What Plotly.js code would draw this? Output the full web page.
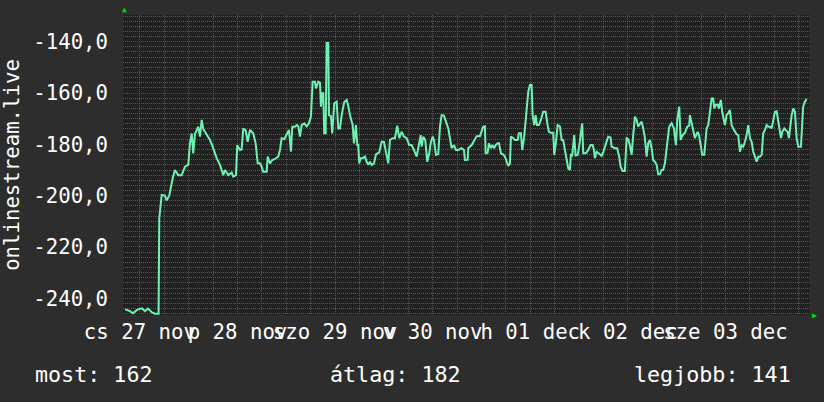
<!DOCTYPE html>
<html>
<head>
<meta charset="utf-8">
<script src="https://cdn.plot.ly/plotly-3.0.1.min.js"></script>
<style>html,body{margin:0;padding:0;background:#2d2d2d;}#chart{width:824px;height:402px;}</style>
</head>
<body>
<div id="chart"></div>
<script>
// hours since 27 Nov 00:00
var hours = [8.34,9.57,10.30,11.29,12.52,13.25,13.99,14.98,15.71,16.6,16.77,17.36,18.17,18.59,19.23,19.57,20.07,20.63,21.44,22.28,23.09,23.90,24.32,24.74,25.13,25.55,26.36,26.78,27.20,27.59,28.43,29.24,29.90,30.88,31.70,32.51,32.93,33.74,34.57,34.97,35.63,35.95,36.61,37.03,37.43,38.02,38.51,39.07,39.88,40.48,40.97,41.53,41.95,42.34,43.18,43.43,43.99,44.56,45.22,46.03,46.45,46.87,47.51,48.10,48.66,49.16,49.48,50.14,50.56,50.95,51.37,51.79,52.42,53.01,53.58,54.07,54.49,55.06,55.30,55.87,56.29,56.53,56.85,57.10,57.34,57.69,57.93,58.33,58.50,58.99,59.31,59.80,60.39,60.79,61.21,61.62,62.26,62.85,63.25,63.66,64.33,64.65,65.14,65.46,65.70,65.95,66.29,66.78,67.35,67.77,68.16,68.58,69.00,69.56,70.06,70.87,71.46,72.02,72.52,73.08,73.50,74.16,74.73,75.29,75.79,76.38,76.94,77.61,78.24,78.83,79.40,80.06,80.46,81.05,81.29,81.69,82.18,82.67,83.16,83.51,84.00,84.32,84.81,85.38,85.80,86.21,86.78,87.27,87.84,88.25,88.67,89.24,89.73,90.30,91.13,91.70,91.94,92.60,92.75,93.59,94.23,94.82,95.63,96.05,96.44,96.86,97.03,97.52,97.84,98.34,98.66,99.15,99.49,99.98,100.31,100.80,101.36,101.78,102.20,102.59,103.01,103.25,103.82,104.24,104.90,105.22,105.71,106.03,106.52,106.87,107.11,107.51,107.92,108.34,108.59,108.98,109.32,109.64,110.13,110.62,111.19,111.78,112.27,112.59,113.08,113.65,113.90,114.24,114.74,115.30,115.72,116.11,116.53,116.94,117.34,117.75,118.00,118.32,118.81,119.15,119.65,119.97,120.46,120.78,121.03,121.69,122.26,122.85,123.34,123.66,123.90,124.32,124.71,125.13,125.55,125.94,126.36,126.78,127.17,127.76,128.01,128.82,129.38,129.88,130.22,130.71,131.28,131.70,132.09,132.51,132.93,133.32,133.74,134.16,134.55,134.97,135.39,135.78,136.20,136.62,137.01,137.43,137.85,138.24,138.66,139.08,139.47,139.89,140.31,140.70,141.12,141.69,142.18,142.77,143.34,143.83,144.15,144.64,144.99,145.48,146.05,146.61,147.10,147.27,147.69,148.09,148.50,149.17,149.49,149.98,150.30,150.79,151.14,151.38,151.78,152.19,152.61,153.00,153.25,153.59,154.08,154.40,154.89,155.21,155.46,155.88,156.29,156.69,157.11,157.52,157.92,158.34,158.75,159.15,159.57,159.98,160.38,160.80,161.22,161.61,162.03,162.45,162.84,163.26,163.68,164.07,164.49,164.91,165.30,165.72,166.14,166.53,166.95,167.37,167.76,168.18,168.60,168.99,169.41,169.66,169.97,170.47,170.81,171.30,171.62,171.87,172.29,172.68,173.10,173.51,173.91,174.57,174.88,175.12,175.54,175.96];
var values = [-244.3,-245,-245.8,-244.5,-243.9,-245,-244,-245.5,-246,-246,-208.8,-199.7,-200,-201.8,-200,-196.5,-193.2,-190,-192,-192,-188.7,-188,-179.6,-175.7,-183.5,-176,-173.1,-177,-170.5,-174,-176.4,-178.3,-180.9,-185.4,-188,-192,-190,-192,-191,-192.6,-192,-180.3,-182.2,-182,-173.8,-174.5,-179,-174.4,-175.7,-179.6,-187.4,-187.4,-188.7,-190.7,-190.7,-184.8,-187.4,-186.1,-185.7,-184.8,-182.2,-177.6,-178,-176.4,-174.4,-182.9,-173.1,-173.1,-172.5,-173,-177,-172.5,-171.8,-173,-171.8,-169.2,-155.6,-155.6,-158.2,-155.6,-156,-165.3,-160.1,-160.1,-175.7,-175.7,-140.5,-140.5,-168.6,-169,-175.7,-164,-163.4,-173.8,-173.8,-168.6,-163.5,-162.7,-165,-168.6,-172.5,-179.6,-172.5,-180.3,-180.3,-187.4,-185.4,-185.4,-184.8,-186.8,-188,-186.8,-188,-187.5,-183.9,-183.1,-179,-179,-182.9,-187.4,-178.3,-177.6,-177.6,-172.7,-177.6,-175.1,-177,-177.6,-180.3,-180.3,-182.2,-184.8,-181.5,-176.4,-180.9,-177,-178.3,-186.8,-183.5,-179.6,-177,-178.3,-184.1,-183.8,-173.1,-168.6,-168.8,-171.2,-173.8,-177.6,-181.5,-180.3,-182.2,-182.2,-181.5,-182.2,-186.1,-186,-181.5,-180.3,-178.3,-176.8,-176.8,-175.1,-173.1,-173,-183.5,-183.3,-179.6,-181.5,-180.3,-181.5,-180.3,-179.6,-179.6,-183.5,-184,-184.8,-186.8,-188.4,-187.5,-177,-177.6,-178.3,-178.3,-175.7,-175.7,-182.2,-177,-171.8,-166.6,-159.5,-156.9,-156.9,-168.6,-172.5,-168.6,-172.5,-172.5,-170.5,-167.3,-167.3,-172.5,-175.1,-175.5,-175.5,-184.1,-180.3,-172.5,-173,-178.3,-178.3,-182.2,-185.4,-189.3,-190,-184.1,-184.3,-176.4,-184.3,-184.1,-181.5,-175.7,-171.8,-183.5,-183.5,-182.2,-180.3,-180.3,-182.2,-185.4,-182.9,-183.3,-184.1,-184.5,-183,-180.9,-178.3,-177,-177.3,-180.9,-181.5,-181.5,-184.8,-188.7,-190.4,-190.4,-177.6,-178,-180.3,-184.1,-176.4,-169.2,-170.5,-173.1,-172,-171.2,-173.8,-177.6,-184.8,-179.6,-178.3,-181.5,-186.1,-186.8,-188,-191.7,-191.7,-190,-190,-187.4,-179.6,-173.1,-171.8,-173.8,-180.3,-170.5,-165.3,-178.3,-176.4,-175.5,-173.1,-172.7,-168.6,-171.8,-175.7,-177.6,-175.1,-176.4,-180.9,-184.1,-184.1,-179,-173.8,-172.5,-167.3,-162.1,-162.1,-166,-164.7,-164.5,-166,-162.7,-167.3,-169.9,-172.5,-168.6,-167.9,-166.6,-172.5,-173.8,-175,-176.1,-176.4,-182.9,-180.3,-180.9,-179,-176.4,-172.5,-177.6,-179,-182.9,-184.8,-186.8,-184.8,-184.8,-184.1,-175.7,-174.4,-172.5,-173.1,-173.1,-173.8,-171.2,-167.3,-167.1,-171.2,-173.8,-177.6,-175.1,-173.8,-174.4,-175.1,-177.6,-173.8,-168.6,-166,-167.3,-177.6,-180.9,-180.9,-171.8,-165.3,-163.4,-162.3];

var dayLabelHours = [12, 36, 60, 84, 108, 132, 156];
var dayLabels = ["cs 27 nov", "p 28 nov", "szo 29 nov", "v 30 nov", "h 01 dec", "k 02 dec", "sze 03 dec"];
var midnightHours = [24, 48, 72, 96, 120, 144, 168];
var yTickVals = [-240, -220, -200, -180, -160, -140];
var yTickText = ["-240,0", "-220,0", "-200,0", "-180,0", "-160,0", "-140,0"];
var legendTexts = ["most: 162", "átlag: 182", "legjobb: 141"];
var yTitle = "onlinestream.live";

var mono = "DejaVu Sans Mono, monospace";
var red = "#7a3838";
var grey = "#585858";
var dash = "1px,1px";

var trace = {
  x: hours, y: values, type: "scatter", mode: "lines",
  line: {color: "#6ef2b4", width: 2},
  xaxis: "x", yaxis: "y", hoverinfo: "skip"
};
// invisible helper trace so the overlaying grid axis is drawn
var gridTrace = {
  x: midnightHours, y: midnightHours.map(function () { return null; }),
  type: "scatter", mode: "lines", xaxis: "x2", yaxis: "y", hoverinfo: "skip", showlegend: false
};

var layout = {
  width: 824, height: 402,
  paper_bgcolor: "#2d2d2d", plot_bgcolor: "#212121",
  margin: {l: 123, r: 14, t: 15, b: 87},
  showlegend: false,
  font: {family: mono, color: "#ffffff", size: 20.7},
  xaxis: {
    range: [7.85, 176.8], tickmode: "array", tickvals: dayLabelHours, ticktext: dayLabels,
    tickangle: 0, showgrid: false, zeroline: false, ticks: "", showline: false, ticklabelstandoff: 2,
    tickfont: {family: mono, size: 20.7, color: "#ffffff"}
  },
  xaxis2: {
    overlaying: "x", side: "bottom", range: [7.85, 176.8], tickmode: "array", tickvals: midnightHours,
    showticklabels: false, ticks: "", showgrid: true, gridcolor: red, griddash: dash, gridwidth: 1,
    zeroline: false, showline: false,
    minor: {tickmode: "linear", tick0: 0, dtick: 6, showgrid: true, gridcolor: grey, griddash: dash, gridwidth: 1, ticks: ""}
  },
  yaxis: {
    range: [-246.5, -129.6], tickmode: "array", tickvals: yTickVals, ticktext: yTickText,
    showgrid: true, gridcolor: red, griddash: dash, gridwidth: 1, zeroline: false, ticks: "", showline: false,
    ticklabelstandoff: 14,
    minor: {tickmode: "linear", tick0: 0, dtick: 2, showgrid: true, gridcolor: grey, griddash: dash, gridwidth: 1, ticks: ""},
    tickfont: {family: mono, size: 20.7, color: "#ffffff"},
    title: {text: yTitle, font: {family: mono, size: 20.7, color: "#ffffff"}, standoff: 10},
    automargin: false
  },
  annotations: [
    {text: legendTexts[0], xref: "paper", yref: "paper", x: -0.131, y: -0.197, xanchor: "left", yanchor: "middle", showarrow: false, font: {family: mono, size: 21.7, color: "#ffffff"}},
    {text: legendTexts[1], xref: "paper", yref: "paper", x: 0.298, y: -0.197, xanchor: "left", yanchor: "middle", showarrow: false, font: {family: mono, size: 21.7, color: "#ffffff"}},
    {text: legendTexts[2], xref: "paper", yref: "paper", x: 0.975, y: -0.197, xanchor: "right", yanchor: "middle", showarrow: false, font: {family: mono, size: 21.7, color: "#ffffff"}},
    {text: "▲", xref: "paper", yref: "paper", x: 0.0015, y: 1.017, xanchor: "center", yanchor: "middle", showarrow: false, font: {size: 8, color: "#00dd00"}},
    {text: "▶", xref: "paper", yref: "paper", x: 1.007, y: 0, xanchor: "center", yanchor: "middle", showarrow: false, font: {size: 8, color: "#00dd00"}}
  ]
};

Plotly.newPlot("chart", [gridTrace, trace], layout, {displayModeBar: false, staticPlot: true});
</script>
</body>
</html>
